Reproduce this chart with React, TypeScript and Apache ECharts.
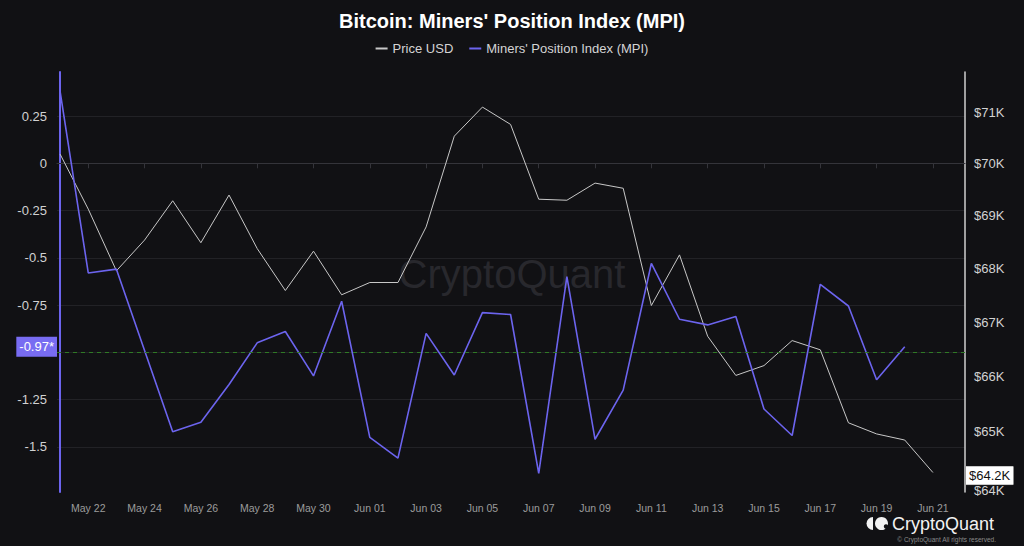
import React, { useEffect, useRef } from "react";
import * as echarts from "echarts";

// ---- data ----
const dates = [
  "May 21", "May 22", "May 23", "May 24", "May 25", "May 26", "May 27", "May 28", "May 29", "May 30", "May 31",
  "Jun 01", "Jun 02", "Jun 03", "Jun 04", "Jun 05", "Jun 06", "Jun 07", "Jun 08", "Jun 09", "Jun 10",
  "Jun 11", "Jun 12", "Jun 13", "Jun 14", "Jun 15", "Jun 16", "Jun 17", "Jun 18", "Jun 19", "Jun 20", "Jun 21",
];
const priceUSD = [
  70190, 69130, 67960, 68540, 69290, 68490, 69400, 68380, 67590, 68330, 67510,
  67740, 67740, 68790, 70540, 71110, 70770, 69320, 69300, 69630, 69530,
  67310, 68260, 66740, 66020, 66200, 66660, 66490, 65160, 64960, 64850, 64270,
];
const mpi = [
  0.38, -0.58, -0.56, -0.99, -1.42, -1.37, -1.17, -0.95, -0.89, -1.125, -0.73,
  -1.45, -1.56, -0.9, -1.12, -0.79, -0.8, -1.64, -0.6, -1.46, -1.2,
  -0.53, -0.825, -0.855, -0.81, -1.3, -1.44, -0.64, -0.755, -1.145, -0.97,
];
const xTickIdx = [1, 3, 5, 7, 9, 11, 13, 15, 17, 19, 21, 23, 25, 27, 29, 31];
const mpiGridTicks = [-1.5, -1.25, -1, -0.75, -0.5, -0.25, 0, 0.25];
const mpiLabelTicks = [-1.5, -1.25, -0.75, -0.5, -0.25, 0, 0.25];
const priceTicks = [64000, 65000, 66000, 67000, 68000, 69000, 70000, 71000];
const mpiThreshold = -1;

const FONT = "'Liberation Sans', Arial, sans-serif";
const PURPLE = "#6c64ee";
const PRICE_COLOR = "#c8c8c8";
const CLEAR = "rgba(0,0,0,0)";

export default function App() {
  const ref = useRef<HTMLDivElement>(null);
  useEffect(() => {
    if (!ref.current) return;
    const chart = echarts.init(ref.current, null, { renderer: "svg" });
    const lastMpi = mpi[mpi.length - 1];
    const lastPrice = priceUSD[priceUSD.length - 1];
    const option: any = {
      animation: false,
      backgroundColor: "#111114",
      textStyle: { fontFamily: FONT },
      title: {
        text: "Bitcoin: Miners' Position Index (MPI)",
        left: "center",
        top: 11,
        padding: 0,
        textStyle: { color: "#ffffff", fontSize: 20, fontWeight: "bold", fontFamily: FONT },
      },
      legend: {
        top: 42,
        left: "center",
        padding: 0,
        itemGap: 16,
        itemWidth: 12,
        itemHeight: 2,
        icon: "rect",
        textStyle: { color: "#d4d4d4", fontSize: 13, fontFamily: FONT },
        data: ["Price USD", "Miners' Position Index (MPI)"],
      },
      grid: { left: 57, right: 59, top: 72, bottom: 54 },
      graphic: [
        {
          type: "text",
          left: "center",
          top: 254,
          z: 0,
          silent: true,
          style: { text: "CryptoQuant", fill: "#28282d", font: `40px ${FONT}` },
        },
        {
          type: "sector",
          z: 10,
          shape: { cx: 873, cy: 523.5, r: 6.5, r0: 0, startAngle: Math.PI / 2, endAngle: Math.PI * 1.5 },
          style: { fill: "#f2f2f2" },
        },
        { type: "circle", z: 10, shape: { cx: 881.5, cy: 523.5, r: 6.5 }, style: { fill: "#f2f2f2" } },
        { type: "circle", z: 11, shape: { cx: 886, cy: 526.5, r: 2.2 }, style: { fill: "#111114" } },
        {
          type: "text",
          x: 892,
          y: 523.5,
          z: 10,
          style: { text: "CryptoQuant", fill: "#f2f2f2", font: `18px ${FONT}`, textVerticalAlign: "middle" },
        },
        {
          type: "text",
          x: 996,
          y: 539,
          z: 10,
          style: {
            text: "© CryptoQuant All rights reserved.",
            fill: "#8a8a8a",
            font: `6.5px ${FONT}`,
            textAlign: "right",
            textVerticalAlign: "middle",
          },
        },
      ],
      xAxis: {
        type: "value",
        min: -0.11,
        max: 32.14,
        axisLine: { show: true, lineStyle: { color: "#34343a", width: 1 } },
        axisTick: { show: true, length: 5, lineStyle: { color: "#34343a" }, customValues: xTickIdx },
        axisLabel: {
          customValues: xTickIdx,
          color: "#9c9c9c",
          fontSize: 10.5,
          margin: 10,
          fontFamily: FONT,
          formatter: (v: number) => dates[Math.round(v)] ?? "",
        },
        splitLine: { show: false },
      },
      yAxis: [
        {
          type: "value",
          position: "left",
          min: -1.739,
          max: 0.483,
          axisLine: { show: true, lineStyle: { color: PURPLE, width: 2 } },
          axisTick: { show: false, customValues: mpiGridTicks },
          axisLabel: {
            customValues: mpiLabelTicks,
            color: "#d2d2d2",
            fontSize: 13,
            margin: 10,
            fontFamily: FONT,
            formatter: (v: number) => String(v),
          },
          splitLine: { show: true, lineStyle: { color: "#222226", width: 1 } },
        },
        {
          type: "value",
          position: "right",
          min: Math.log(63924),
          max: Math.log(71804),
          axisLine: { show: true, lineStyle: { color: "#cfcfcf", width: 1.5 } },
          axisTick: { show: false },
          axisLabel: {
            customValues: priceTicks.map((p) => Math.log(p)),
            color: "#d2d2d2",
            fontSize: 13,
            margin: 9,
            fontFamily: FONT,
            formatter: (v: number) => {
              const k = Math.round(Math.exp(v) / 1000);
              return k === priceTicks[0] / 1000 ? `{low|$${k}K}` : `$${k}K`;
            },
            rich: {
              low: { color: "#d2d2d2", fontSize: 13, fontFamily: FONT, padding: [5, 0, 0, 0] },
            },
          },
          splitLine: { show: false },
        },
      ],
      series: [
        {
          name: "Price USD",
          type: "line",
          yAxisIndex: 1,
          z: 3,
          showSymbol: false,
          symbol: "none",
          color: PRICE_COLOR,
          lineStyle: { color: PRICE_COLOR, width: 1 },
          data: priceUSD.map((p, i) => [i, Math.log(p)]),
          markLine: {
            silent: true,
            symbol: "none",
            animation: false,
            data: [
              {
                yAxis: Math.log(lastPrice),
                lineStyle: { color: CLEAR, width: 0 },
                label: {
                  show: true,
                  position: "end",
                  distance: 1,
                  formatter: "$" + (Math.floor(lastPrice / 100) / 10).toFixed(1) + "K",
                  backgroundColor: "#ffffff",
                  borderColor: "#9a9a9a",
                  borderWidth: 0.5,
                  color: "#111111",
                  fontSize: 13,
                  lineHeight: 14,
                  fontFamily: FONT,
                  padding: [2, 3, 2, 3],
                },
              },
            ],
          },
        },
        {
          name: "Miners' Position Index (MPI)",
          type: "line",
          yAxisIndex: 0,
          z: 4,
          showSymbol: false,
          symbol: "none",
          color: PURPLE,
          lineStyle: { color: PURPLE, width: 1.6 },
          data: mpi.map((v, i) => [i, v]),
          markLine: {
            silent: true,
            symbol: "none",
            animation: false,
            data: [
              {
                yAxis: mpiThreshold,
                lineStyle: { color: "#2f7a25", type: [4, 4], width: 1 },
                label: { show: false },
              },
              {
                yAxis: lastMpi,
                lineStyle: { color: CLEAR, width: 0 },
                label: {
                  show: true,
                  position: "start",
                  distance: 0,
                  formatter: lastMpi.toFixed(2) + "*",
                  backgroundColor: "#786cf2",
                  color: "#ffffff",
                  fontSize: 13,
                  fontFamily: FONT,
                  padding: [4, 3, 3, 3],
                },
              },
            ],
          },
        },
      ],
    };
    chart.setOption(option);
    return () => chart.dispose();
  }, []);
  return (
    <div
      ref={ref}
      style={{ position: "fixed", left: 0, top: 0, width: 1024, height: 546, background: "#111114" }}
    />
  );
}
